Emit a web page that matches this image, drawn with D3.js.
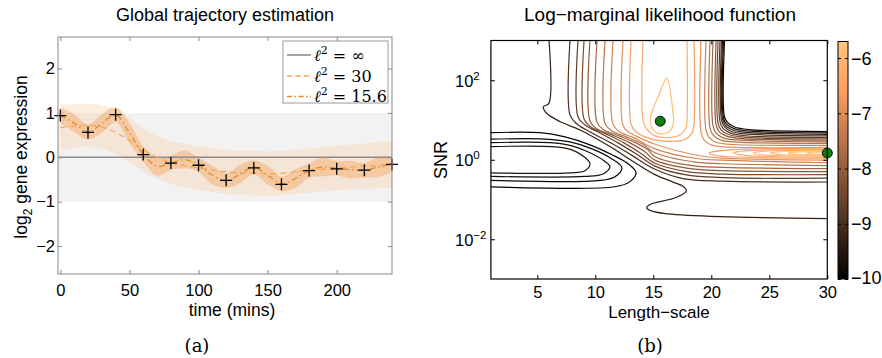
<!DOCTYPE html>
<html>
<head>
<meta charset="utf-8">
<script src="https://cdn.jsdelivr.net/npm/d3@7"></script>
<style>
  body { margin: 0; background: #fff; }
  svg { display: block; }
  text { font-family: "Liberation Sans", Arial, sans-serif; fill: #000; }
  .serif { font-family: "DejaVu Serif", serif; }
</style>
</head>
<body>
<svg id="chart" width="882" height="358"></svg>
<script>
// ---------------- panel (a): trajectory data ----------------
const tGrid = [0,10,20,30,40,50,60,70,80,90,100,110,120,130,140,150,160,170,180,190,200,210,220,230,240];
// l^2 = 30 fit (dashed) and its band half-width
const mean30 = [0.67,0.70,0.72,0.68,0.56,0.38,0.17,0.00,-0.12,-0.19,-0.24,-0.29,-0.33,-0.35,-0.36,-0.37,-0.36,-0.33,-0.30,-0.27,-0.24,-0.22,-0.20,-0.18,-0.15];
const half30 = [0.51,0.50,0.49,0.49,0.50,0.50,0.49,0.48,0.48,0.49,0.49,0.50,0.50,0.50,0.50,0.50,0.50,0.50,0.50,0.50,0.50,0.51,0.51,0.52,0.53];
// l^2 = 15.6 fit (dash-dot) and its band half-width
const mean15 = [0.95,0.77,0.57,0.76,0.96,0.55,0.07,-0.20,-0.13,-0.05,-0.17,-0.40,-0.53,-0.38,-0.23,-0.40,-0.60,-0.48,-0.30,-0.22,-0.25,-0.28,-0.29,-0.22,-0.16];
const half15 = [0.17,0.20,0.17,0.21,0.17,0.22,0.17,0.21,0.16,0.20,0.16,0.21,0.16,0.21,0.16,0.21,0.16,0.21,0.16,0.21,0.16,0.20,0.16,0.22,0.18];
// measurements
const obsTimes = [0,20,40,60,80,100,120,140,160,180,200,220,240];
const obsValues = [0.94,0.56,0.96,0.06,-0.13,-0.18,-0.52,-0.24,-0.61,-0.30,-0.26,-0.29,-0.16];
const refBand = [-1, 1];
const timeTicks = [0,50,100,150,200];
const exprTicks = [-2,-1,0,1,2];
const legendValues = ["\u221E","30","15.6"];

// ---------------- panel (b): log-marginal likelihood contours ----------------
// points are [length-scale, log10 SNR]
const lengthTicks = [5,10,15,20,25,30];
const snrExponents = [-2,0,2];
const cbTicks = [-10,-9,-8,-7,-6];
const levelRange = [-10,-5.7];
const optima = [[15.6,0.97],[30,0.17]];

const leftLoops = [
  {level:-9.55, pts:[[1,0.33],[6.27,0.33],[7.99,0.25],[9.03,0.075],[9.54,-0.1],[9.11,-0.275],[7.82,-0.33],[1,-0.33]]},
  {level:-9.7, pts:[[1,0.43],[6.09,0.43],[7.99,0.35],[9.54,0.175],[10.75,-0.025],[11.27,-0.175],[10.66,-0.36],[9.11,-0.42],[1,-0.42]]},
  {level:-9.8, pts:[[1,0.52],[5.66,0.52],[7.82,0.45],[9.72,0.275],[11.27,0.05],[12.30,-0.2],[11.70,-0.425],[10.41,-0.52],[1,-0.52]]},
  {level:-9.9, pts:[[1,0.68],[5.23,0.68],[7.39,0.575],[9.54,0.375],[11.44,0.125],[12.82,-0.1],[13.51,-0.325],[12.99,-0.55],[11.70,-0.68],[1,-0.68]]}
];
const outerContour = {level:-9.3, pts:[[6.01,3],[6.01,1.425],[5.52,1.33],[5.81,1.17],[6.96,0.96],[8.68,0.75],[9.80,0.58],[11.44,0.3],[13.16,-0.025],[15.15,-0.375],[16.61,-0.55],[17.56,-0.67],[17.86,-0.775],[16.96,-0.95],[14.72,-1.125],[14.43,-1.21],[14.97,-1.3],[16.27,-1.36],[20.75,-1.43],[30,-1.48]]};
const lowerBranches = [
  {level:-9.0, pts:[[7.82,3],[7.82,1.125],[8.42,0.9],[9.72,0.675],[11.44,0.41],[13.16,0.11],[15.15,-0.24],[17.56,-0.475],[21.01,-0.54],[30,-0.56]]},
  {level:-8.7, pts:[[8.51,3],[8.51,1.075],[9.11,0.875],[10.41,0.675],[11.96,0.425],[13.51,0.15],[15.15,-0.16],[17.73,-0.375],[21.01,-0.45],[30,-0.46]]},
  {level:-8.4, pts:[[9.03,3],[9.03,1.025],[9.63,0.825],[10.92,0.65],[12.47,0.425],[13.85,0.175],[15.15,-0.09],[17.91,-0.3],[21.01,-0.36],[30,-0.375]]},
  {level:-8.1, pts:[[9.54,3],[9.54,0.975],[10.15,0.775],[11.44,0.625],[12.99,0.425],[14.28,0.2],[15.15,-0.01],[18.16,-0.225],[21.01,-0.275],[30,-0.3]]},
  {level:-7.8, pts:[[10.15,3],[10.15,0.94],[10.75,0.75],[12.04,0.6],[13.51,0.425],[14.54,0.25],[15.15,0.075],[18.34,-0.15],[21.01,-0.19],[30,-0.225]]},
  {level:-7.5, pts:[[10.84,3],[10.84,0.91],[11.44,0.725],[12.65,0.575],[14.03,0.4],[15.15,0.175],[18.6,-0.06],[21.01,-0.1],[30,-0.15]]},
  {level:-7.2, pts:[[11.53,3],[11.53,0.89],[12.13,0.7],[13.34,0.55],[15.15,0.275],[18.85,0.025],[21.01,-0.01],[30,-0.075]]},
  {level:-6.9, pts:[[12.39,3],[12.39,0.86],[12.91,0.69],[13.85,0.55],[15.15,0.39],[19.03,0.1],[21.01,0.04],[30,-0.01]]}
];
const upperBranches = [
  {level:-6.9, pts:[[19.11,3],[19.11,0.7],[19.37,0.5],[19.97,0.375],[21.09,0.325],[30,0.31]]},
  {level:-7.2, pts:[[19.54,3],[19.54,0.75],[19.81,0.56],[20.41,0.44],[21.53,0.39],[30,0.36]]},
  {level:-7.5, pts:[[19.89,3],[19.89,0.8],[20.15,0.625],[20.75,0.5],[21.87,0.45],[30,0.41]]},
  {level:-7.8, pts:[[20.15,3],[20.15,0.85],[20.41,0.675],[21.01,0.55],[22.13,0.5],[30,0.45]]},
  {level:-8.1, pts:[[20.41,3],[20.41,0.89],[20.66,0.71],[21.27,0.6],[22.39,0.54],[30,0.49]]},
  {level:-8.4, pts:[[20.58,3],[20.58,0.925],[20.84,0.75],[21.44,0.64],[22.56,0.575],[30,0.525]]},
  {level:-8.7, pts:[[20.75,3],[20.75,0.96],[21.01,0.79],[21.61,0.675],[22.73,0.61],[30,0.56]]},
  {level:-9.0, pts:[[20.88,3],[20.88,1.0],[21.14,0.825],[21.74,0.71],[22.86,0.65],[30,0.6]]},
  {level:-9.3, pts:[[20.97,3],[20.97,1.025],[21.22,0.86],[21.83,0.75],[22.95,0.69],[30,0.64]]},
  {level:-9.6, pts:[[21.05,3],[21.05,1.05],[21.31,0.9],[21.91,0.79],[23.08,0.725],[30,0.675]]},
  {level:-9.9, pts:[[21.14,3],[21.14,1.075],[21.40,0.94],[22.00,0.825],[23.25,0.76],[30,0.71]]}
];
const innerU = [
  {level:-6.3, pts:[[14.11,3],[14.11,1.0],[14.37,0.8],[15.15,0.6],[16.27,0.56],[17.3,0.625],[17.82,0.8],[17.91,1.05],[17.91,3]]},
  {level:-6.6, pts:[[13.08,3],[13.08,0.9],[13.51,0.7],[14.28,0.575],[15.15,0.5],[16.45,0.46],[17.73,0.51],[18.34,0.675],[18.51,0.9],[18.51,3]]}
];
const ridgeLoops = [
  {level:-6.6, pts:[[30,0.29],[25.06,0.28],[21.61,0.25],[20.06,0.2],[19.81,0.17],[20.06,0.125],[21.61,0.075],[25.06,0.045],[30,0.04]]},
  {level:-6.3, pts:[[30,0.26],[25.92,0.255],[22.91,0.225],[21.87,0.175],[22.91,0.11],[25.92,0.075],[30,0.06]]},
  {level:-6.0, pts:[[30,0.24],[26.78,0.235],[24.37,0.21],[23.60,0.17],[24.37,0.125],[26.78,0.095],[30,0.09]]},
  {level:-5.9, pts:[[30,0.225],[27.65,0.22],[25.66,0.195],[25.06,0.17],[25.66,0.135],[27.65,0.115],[30,0.11]]},
  {level:-5.8, pts:[[30,0.21],[28.34,0.2],[27.04,0.185],[26.61,0.165],[27.04,0.14],[28.34,0.13],[30,0.12]]},
  {level:-5.75, pts:[[30,0.19],[28.94,0.19],[28.25,0.165],[28.94,0.14],[30,0.14]]}
];
const peakLoop = {level:-5.95, pts:[[16.16,2.06],[16.36,1.9],[16.53,1.575],[16.70,1.2],[16.74,0.95],[16.53,0.75],[16.01,0.66],[15.32,0.675],[14.84,0.825],[14.76,1.05],[15.06,1.35],[15.50,1.65],[15.88,1.925]]};

// matlab copper colormap
function copper(v) {
  const t = Math.max(0, Math.min(1, (v - levelRange[0]) / (levelRange[1] - levelRange[0])));
  return d3.rgb(255 * Math.min(1, 1.25 * t), 255 * 0.7812 * t, 255 * 0.4975 * t).formatHex();
}

const svg = d3.select("#chart");
const defs = svg.append("defs");

// ================= panel (a) =================
const xa = d3.scaleLinear().domain([-1.7, 240]).range([58, 392]);
const ya = d3.scaleLinear().domain([-2.63, 2.71]).range([274, 37]);
const axisGray = "#8a8a8a";

defs.append("clipPath").attr("id", "clipA").append("rect")
  .attr("x", 58).attr("y", 37).attr("width", 334).attr("height", 237);
const pa = svg.append("g").attr("clip-path", "url(#clipA)");

pa.append("rect")
  .attr("x", xa.range()[0]).attr("width", xa.range()[1] - xa.range()[0])
  .attr("y", ya(refBand[1])).attr("height", ya(refBand[0]) - ya(refBand[1]))
  .attr("fill", "#f2f2f2");

const band = (m, h) => d3.area()
  .x((d, i) => xa(tGrid[i]))
  .y0((d, i) => ya(m[i] - h[i]))
  .y1((d, i) => ya(m[i] + h[i]))
  .curve(d3.curveCatmullRom);
pa.append("path").datum(tGrid).attr("d", band(mean30, half30))
  .attr("fill", "#fbd3ad").attr("fill-opacity", 0.4);
pa.append("path").datum(tGrid).attr("d", band(mean15, half15))
  .attr("fill", "#f4a460").attr("fill-opacity", 0.45);

pa.append("line")
  .attr("x1", xa.range()[0]).attr("x2", xa.range()[1])
  .attr("y1", ya(0)).attr("y2", ya(0))
  .attr("stroke", "#8c8c8c").attr("stroke-width", 1.6);

const meanLine = m => d3.line()
  .x((d, i) => xa(tGrid[i]))
  .y((d, i) => ya(m[i]))
  .curve(d3.curveCatmullRom);
pa.append("path").datum(tGrid).attr("d", meanLine(mean30))
  .attr("fill", "none").attr("stroke", "#f8a65a").attr("stroke-width", 1.3)
  .attr("stroke-dasharray", "6,4");
pa.append("path").datum(tGrid).attr("d", meanLine(mean15))
  .attr("fill", "none").attr("stroke", "#e0892a").attr("stroke-width", 1.3)
  .attr("stroke-dasharray", "6,3,1.5,3");

svg.append("g").selectAll("path").data(obsTimes).join("path")
  .attr("d", (t, i) => {
    const cx = xa(t), cy = ya(obsValues[i]);
    return `M${cx - 6},${cy}H${cx + 6}M${cx},${cy - 6}V${cy + 6}`;
  })
  .attr("stroke", "#000").attr("stroke-width", 1.3);

// axes (a)
function styleAxis(g, color, size) {
  g.select(".domain").remove();
  g.selectAll(".tick line").attr("stroke", color);
  g.selectAll(".tick text").attr("font-size", size).attr("fill", "#000")
    .style("font-family", '"Liberation Sans", Arial, sans-serif');
}
svg.append("g").attr("transform", "translate(0,274)")
  .call(d3.axisBottom(xa).tickValues(timeTicks).tickSize(-4).tickPadding(10))
  .call(g => styleAxis(g, axisGray, 16.5));
svg.append("g").attr("transform", "translate(0,37)")
  .call(d3.axisTop(xa).tickValues(timeTicks).tickSize(-4).tickFormat(""))
  .call(g => styleAxis(g, axisGray, 16.5));
svg.append("g").attr("transform", "translate(58,0)")
  .call(d3.axisLeft(ya).tickValues(exprTicks).tickSize(-4).tickPadding(3).tickFormat(d3.format("d")))
  .call(g => styleAxis(g, axisGray, 16.5));
svg.append("g").attr("transform", "translate(392,0)")
  .call(d3.axisRight(ya).tickValues(exprTicks).tickSize(-4).tickFormat(""))
  .call(g => styleAxis(g, axisGray, 16.5));
svg.append("rect").attr("x", 58).attr("y", 37).attr("width", 334).attr("height", 237)
  .attr("fill", "none").attr("stroke", axisGray).attr("stroke-width", 1);

svg.append("text").attr("x", 225).attr("y", 21).attr("text-anchor", "middle")
  .attr("font-size", 18).text("Global trajectory estimation");
svg.append("text").attr("x", 232).attr("y", 316).attr("text-anchor", "middle")
  .attr("font-size", 17.5).text("time (mins)");
const yl = svg.append("text").attr("transform", "translate(27,157) rotate(-90)")
  .attr("text-anchor", "middle").attr("font-size", 17.5);
yl.append("tspan").text("log");
yl.append("tspan").attr("font-size", 12).attr("dy", 5).text("2");
yl.append("tspan").attr("dy", -5).text(" gene expression");

// legend
const lg = svg.append("g");
lg.append("rect").attr("x", 283).attr("y", 41).attr("width", 105).attr("height", 62)
  .attr("fill", "#fff").attr("stroke", "#9a9a9a").attr("stroke-width", 1);
const legendStyles = [
  {stroke: "#8c8c8c", dash: null, width: 1.6},
  {stroke: "#f8a65a", dash: "5,3.5", width: 1.3},
  {stroke: "#e0892a", dash: "5,2.5,1.5,2.5", width: 1.3}
];
const legendY = [55, 76, 96.5];
legendValues.forEach((v, i) => {
  lg.append("line").attr("x1", 287).attr("x2", 311)
    .attr("y1", legendY[i]).attr("y2", legendY[i])
    .attr("stroke", legendStyles[i].stroke).attr("stroke-width", legendStyles[i].width)
    .attr("stroke-dasharray", legendStyles[i].dash);
  const t = lg.append("text").attr("class", "serif").attr("x", 314).attr("y", legendY[i] + 5.5)
    .attr("font-size", 16);
  t.append("tspan").attr("font-style", "italic").text("\u2113");
  t.append("tspan").attr("font-size", 11).attr("dy", -7).text("2");
  t.append("tspan").attr("dy", 7).text(" = " + v);
});

svg.append("text").attr("class", "serif").attr("x", 197).attr("y", 352)
  .attr("text-anchor", "middle").attr("font-size", 18).text("(a)");

// ================= panel (b) =================
const xb = d3.scaleLinear().domain([1, 30]).range([490.9, 827.3]);
const yb = d3.scaleLog().domain([1e-3, 1e3]).range([279, 40.5]);

defs.append("clipPath").attr("id", "clipB").append("rect")
  .attr("x", 490.9).attr("y", 40.5).attr("width", 827.3 - 490.9).attr("height", 279 - 40.5);
const pb = svg.append("g").attr("clip-path", "url(#clipB)");

const contourLine = d3.line()
  .x(d => xb(d[0]))
  .y(d => yb(Math.pow(10, d[1])))
  .curve(d3.curveCatmullRom.alpha(0.5));
const allContours = [...leftLoops, outerContour, ...lowerBranches, ...upperBranches, ...innerU, ...ridgeLoops];
pb.selectAll("path.c").data(allContours).join("path").attr("class", "c")
  .attr("d", d => contourLine(d.pts))
  .attr("fill", "none").attr("stroke", d => copper(d.level)).attr("stroke-width", 1.2);
pb.append("path")
  .attr("d", d3.line().x(d => xb(d[0])).y(d => yb(Math.pow(10, d[1])))
    .curve(d3.curveCatmullRomClosed.alpha(0.5))(peakLoop.pts))
  .attr("fill", "none").attr("stroke", copper(peakLoop.level)).attr("stroke-width", 1.2);

svg.append("g").selectAll("circle").data(optima).join("circle")
  .attr("cx", d => xb(d[0])).attr("cy", d => yb(Math.pow(10, d[1])))
  .attr("r", 5).attr("fill", "#0a7d0a").attr("stroke", "#111").attr("stroke-width", 1);

svg.append("g").attr("transform", "translate(0,279)")
  .call(d3.axisBottom(xb).tickValues(lengthTicks).tickSize(-4).tickPadding(7))
  .call(g => styleAxis(g, "#000", 16.5));
svg.append("g").attr("transform", "translate(0,40.5)")
  .call(d3.axisTop(xb).tickValues(lengthTicks).tickSize(-4).tickFormat(""))
  .call(g => styleAxis(g, "#000", 16.5));
const snrTickVals = snrExponents.map(e => Math.pow(10, e));
svg.append("g").attr("transform", "translate(490.9,0)")
  .call(d3.axisLeft(yb).tickValues(snrTickVals).tickSize(-4).tickFormat(""))
  .call(g => styleAxis(g, "#000", 16.5));
svg.append("g").attr("transform", "translate(827.3,0)")
  .call(d3.axisRight(yb).tickValues(snrTickVals).tickSize(-4).tickFormat(""))
  .call(g => styleAxis(g, "#000", 16.5));
snrExponents.forEach(e => {
  const t = svg.append("text").attr("x", 455).attr("y", yb(Math.pow(10, e)) + 6.5)
    .attr("font-size", 16.5);
  t.append("tspan").text("10");
  t.append("tspan").attr("font-size", 11.5).attr("dy", -7).text(e < 0 ? "\u2212" + (-e) : String(e));
});
svg.append("rect").attr("x", 490.9).attr("y", 40.5).attr("width", 827.3 - 490.9).attr("height", 279 - 40.5)
  .attr("fill", "none").attr("stroke", "#000").attr("stroke-width", 1.2);

svg.append("text").attr("x", 660).attr("y", 21).attr("text-anchor", "middle")
  .attr("font-size", 19).text("Log\u2212marginal likelihood function");
svg.append("text").attr("x", 659).attr("y", 318).attr("text-anchor", "middle")
  .attr("font-size", 17).text("Length\u2212scale");
svg.append("text").attr("transform", "translate(447,160) rotate(-90)")
  .attr("text-anchor", "middle").attr("font-size", 18).text("SNR");
svg.append("text").attr("class", "serif").attr("x", 650).attr("y", 352)
  .attr("text-anchor", "middle").attr("font-size", 18).text("(b)");

// colorbar
const cb = d3.scaleLinear().domain(levelRange).range([279, 41.5]);
const grad = defs.append("linearGradient").attr("id", "copperGrad")
  .attr("x1", 0).attr("y1", 1).attr("x2", 0).attr("y2", 0);
[0, 0.2, 0.4, 0.6, 0.8, 1].forEach(f => {
  grad.append("stop").attr("offset", f)
    .attr("stop-color", copper(levelRange[0] + f * (levelRange[1] - levelRange[0])));
});
svg.append("rect").attr("x", 838).attr("y", cb(levelRange[1])).attr("width", 10)
  .attr("height", cb(levelRange[0]) - cb(levelRange[1]))
  .attr("fill", "url(#copperGrad)").attr("stroke", "#000").attr("stroke-width", 1);
svg.append("g").attr("transform", "translate(838,0)")
  .call(d3.axisLeft(cb).tickValues(cbTicks).tickSize(-3).tickFormat(""))
  .call(g => styleAxis(g, "#000", 18));
svg.append("g").attr("transform", "translate(848,0)")
  .call(d3.axisRight(cb).tickValues(cbTicks).tickSize(-3).tickFormat(""))
  .call(g => styleAxis(g, "#000", 18));
svg.append("g").selectAll("text").data(cbTicks).join("text")
  .attr("x", 851).attr("y", d => Math.min(cb(d) + 6.5, 284))
  .attr("font-size", 18).text(d => "\u2212" + Math.abs(d));
</script>
</body>
</html>
